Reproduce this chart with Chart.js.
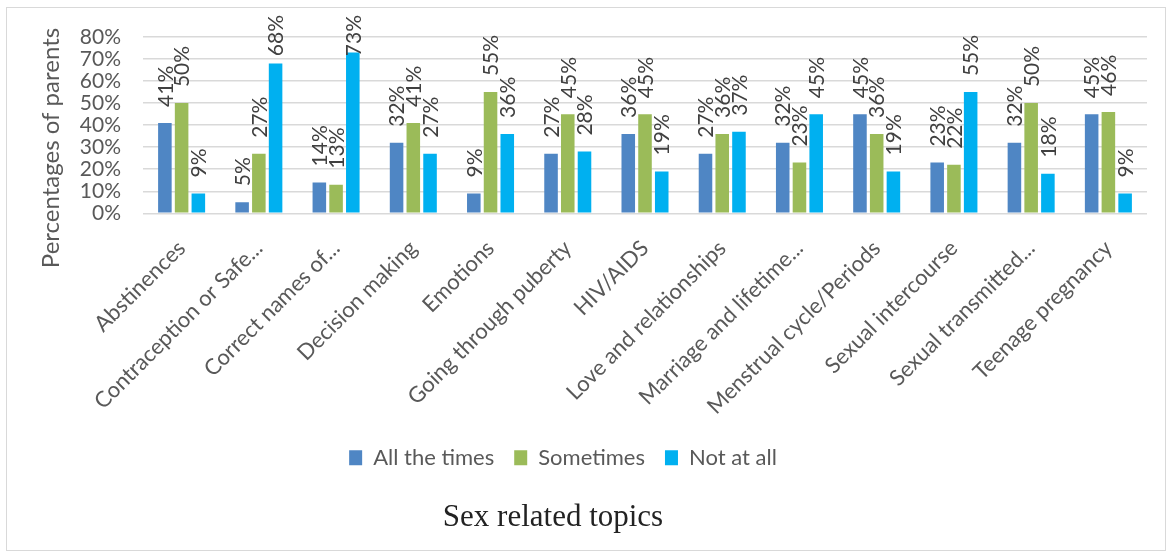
<!DOCTYPE html>
<html>
<head>
<meta charset="utf-8">
<script src="https://cdn.jsdelivr.net/npm/chart.js@4.4.1/dist/chart.umd.min.js"></script>
<style>
  html, body { margin: 0; padding: 0; background: #fff; }
  .frame {
    position: absolute;
    left: 6px;
    top: 7px;
    width: 1158px;
    height: 542px;
    border: 1px solid #d9d9d9;
  }
</style>
</head>
<body>
<div class="frame">
  <canvas id="topicsChart" width="1158" height="542"></canvas>
</div>
<script>
// Topics and answers (percent of parents)
const topics = [
  "Abstinences",
  "Contraception or Safe...",
  "Correct names of...",
  "Decision making",
  "Emotions",
  "Going through puberty",
  "HIV/AIDS",
  "Love and relationships",
  "Marriage and lifetime...",
  "Menstrual cycle/Periods",
  "Sexual intercourse",
  "Sexual transmitted...",
  "Teenage pregnancy",
];
const allTheTimes = [41, 5, 14, 32, 9, 27, 36, 27, 32, 45, 23, 32, 45];
const sometimes = [50, 27, 13, 41, 55, 45, 45, 36, 23, 36, 22, 50, 46];
const notAtAll = [9, 68, 73, 27, 36, 28, 19, 37, 45, 19, 55, 18, 9];
const yTicks = [0, 10, 20, 30, 40, 50, 60, 70, 80];

const textGrey = "#595959";

// value labels written upright above each bar (kept inside the canvas top),
// plus the y axis title
const barLabels = {
  id: "barLabels",
  afterDatasetsDraw(chart) {
    const ctx = chart.ctx;
    ctx.save();
    ctx.font = "21px Lato";
    ctx.fillStyle = "#404040";
    ctx.textAlign = "left";
    ctx.textBaseline = "middle";
    chart.data.datasets.forEach((ds, i) => {
      chart.getDatasetMeta(i).data.forEach((bar, j) => {
        const text = ds.data[j] + "%";
        const w = ctx.measureText(text).width;
        const start = Math.max(bar.y - 16, 7 + w);
        ctx.save();
        ctx.translate(bar.x, start);
        ctx.rotate(-Math.PI / 2);
        ctx.fillText(text, 0, 1);
        ctx.restore();
      });
    });
    ctx.save();
    ctx.font = "24px Lato";
    ctx.fillStyle = textGrey;
    ctx.textAlign = "center";
    ctx.translate(44, 140);
    ctx.rotate(-Math.PI / 2);
    ctx.fillText("Percentages of parents", 0, 0);
    ctx.restore();
    ctx.restore();
  },
};

// legend and title sit a little left of the canvas centre
const shiftBottom = {
  id: "shiftBottom",
  afterLayout(chart) {
    const legend = chart.legend;
    legend.left -= 14;
    legend.right -= 14;
    legend.top -= 12;
    legend.bottom -= 12;
    const title = chart.titleBlock;
    title.left -= 24;
    title.right -= 24;
  },
};

const ctx = document.getElementById("topicsChart").getContext("2d");
const topicsChart = new Chart(ctx, {
  type: "bar",
  data: {
    labels: topics,
    datasets: [
      {
        label: "All the times",
        data: allTheTimes,
        backgroundColor: "#4f86c4",
      },
      {
        label: "Sometimes",
        data: sometimes,
        backgroundColor: "#9bbb59",
      },
      {
        label: "Not at all",
        data: notAtAll,
        backgroundColor: "#00b0f0",
      },
    ],
  },
  options: {
    responsive: false,
    animation: false,
    layout: {
      padding: { top: 29, right: 18, bottom: 6, left: 0 },
    },
    datasets: {
      bar: {
        categoryPercentage: 0.65,
        barPercentage: 0.81,
      },
    },
    scales: {
      x: {
        afterFit(scale) {
          scale.height = 225.5;
        },
        grid: { display: false, drawTicks: false },
        border: { display: false },
        ticks: {
          color: textGrey,
          font: { family: "Lato", size: 22 },
          minRotation: 45,
          maxRotation: 45,
          padding: 22,
          autoSkip: false,
        },
      },
      y: {
        min: 0,
        max: 80,
        afterFit(scale) {
          scale.width = 136;
          scale.paddingTop = 12;
          scale.paddingBottom = 12;
        },
        afterBuildTicks(scale) {
          scale.ticks = yTicks.map((v) => ({ value: v }));
        },
        grid: { color: "#d9d9d9", lineWidth: 1.5, drawTicks: false },
        border: { display: false },
        ticks: {
          color: textGrey,
          font: { family: "Lato", size: 21 },
          padding: 22,
          autoSkip: false,
          callback: (v) => v + "%",
        },
      },
    },
    plugins: {
      legend: {
        position: "bottom",
        labels: {
          color: textGrey,
          font: { family: "Lato", size: 22 },
          boxWidth: 13,
          boxHeight: 15,
          padding: 20,
        },
      },
      title: {
        display: true,
        position: "bottom",
        text: "Sex related topics",
        color: "#222",
        font: { family: "Liberation Serif", size: 31, weight: "normal" },
        padding: { top: 8, bottom: 8 },
      },
      tooltip: { enabled: false },
    },
  },
  plugins: [barLabels, shiftBottom],
});
</script>
</body>
</html>
